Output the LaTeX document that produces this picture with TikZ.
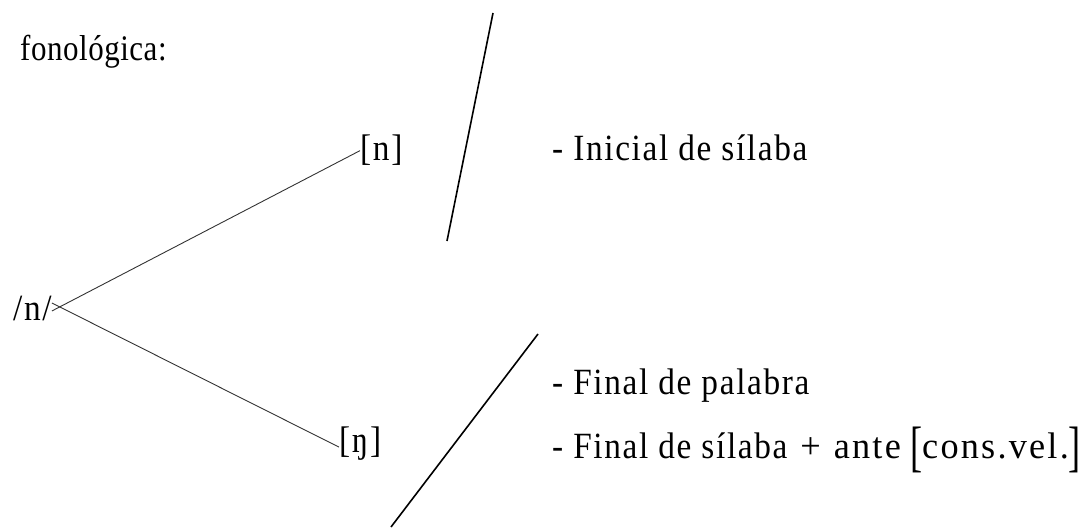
\documentclass[tikz,border=0pt]{standalone}
\usepackage{fontspec}
\usepackage{graphicx}
\setmainfont{Liberation Serif}[LetterSpace=4.5,FakeStretch=0.9]
\newfontfamily\plainserif{Liberation Serif}[LetterSpace=1.5,FakeStretch=0.86]
\newfontfamily\wideserif{Liberation Serif}[LetterSpace=6,FakeStretch=0.98]
\tikzset{
  lbl/.style={anchor=base west, inner sep=0pt, font=\fontsize{37}{44}\selectfont},
  branch/.style={line width=0.9pt, draw=black!80},
  slashmark/.style={line width=1.6pt},
}
\newcommand{\bigbrL}{\raisebox{-0.2em}{\scalebox{1}[1.5]{[}}}
\newcommand{\bigbrR}{\raisebox{-0.2em}{\scalebox{1}[1.5]{]}}}
\begin{document}
\begin{tikzpicture}[x=1pt,y=-1pt]
\useasboundingbox (0,0) rectangle (1086,527);
\node[lbl, font=\fontsize{36}{44}\plainserif] (fon) at (20,60) {fonológica:};
\node[lbl] (N) at (13,320) {/n/};
\node[lbl] (nn) at (360,160) {[n]};
\node[lbl] (ng) at (339,452) {[ŋ]};
\node[lbl] (ini) at (552,160) {- Inicial de sílaba};
\node[lbl] (fp) at (552,394) {- Final de palabra};
\node[lbl] (fs) at (552,458) {- Final de sílaba\hspace{0.35em}{\wideserif +\hspace{0.35em}ante\hspace{0.25em}\bigbrL cons.vel.\bigbrR}};
\draw[branch] ([yshift=-3pt]N.east) -- ([yshift=-1pt]nn.west);
\draw[branch] ([yshift=5pt]N.east) -- ([yshift=-4pt]ng.west);
\draw[slashmark] (493,13) -- (447,241);
\draw[slashmark] (538,334) -- (391,527);
\end{tikzpicture}
\end{document}
